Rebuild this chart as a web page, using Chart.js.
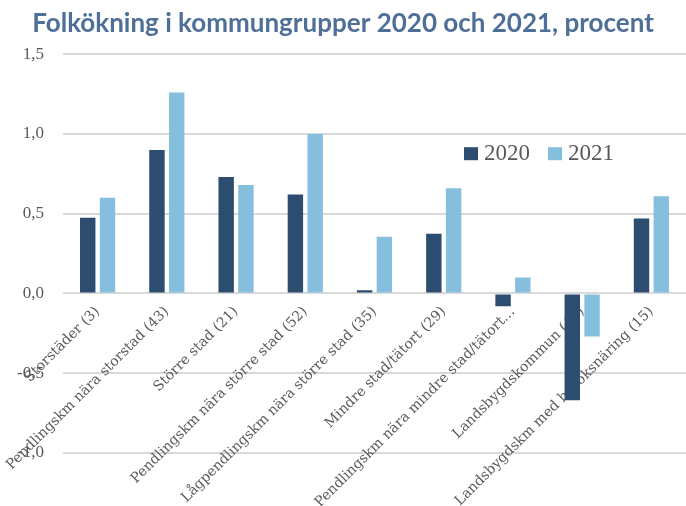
<!DOCTYPE html>
<html>
<head>
<meta charset="utf-8">
<script src="https://cdn.jsdelivr.net/npm/chart.js@4.4.0/dist/chart.umd.min.js"></script>
<style>
  html, body { margin: 0; padding: 0; background: #fff; }
  #wrap { width: 686px; height: 506px; }
</style>
</head>
<body>
<div id="wrap"><canvas id="folkChart" width="686" height="506"></canvas></div>
<script>
// Kommungrupper (etiketter på x-axeln)
const categories = [
    'Storstäder (3)',
    'Pendlingskm nära storstad (43)',
    'Större stad (21)',
    'Pendlingskm nära större stad (52)',
    'Lågpendlingskm nära större stad (35)',
    'Mindre stad/tätort (29)',
    'Pendlingskm nära mindre stad/tätort…',
    'Landsbygdskommun (40)',
    'Landsbygdskm med besöksnäring (15)'
];

// Folkökning i procent
const values2020 = [0.475, 0.90, 0.73, 0.62, 0.02, 0.375, -0.08, -0.67, 0.47];
const values2021 = [0.60, 1.26, 0.68, 1.00, 0.355, 0.66, 0.10, -0.27, 0.61];

const seriesLabels = ['2020', '2021'];
const seriesColors = ['#2c4d70', '#86bfdd'];

const yTicks = [-1.0, -0.5, 0.0, 0.5, 1.0, 1.5];

const serif = "'Liberation Serif', 'DejaVu Serif', serif";

// Legend ritas inne i diagramytan
const insideLegend = {
    id: 'insideLegend',
    afterDraw(chart) {
        const ctx = chart.ctx;
        const area = chart.chartArea;
        let x = area.left + 401;
        const y = area.top + 99;
        ctx.save();
        ctx.font = '23px ' + serif;
        ctx.textBaseline = 'middle';
        ctx.textAlign = 'left';
        chart.data.datasets.forEach(ds => {
            ctx.fillStyle = ds.backgroundColor;
            ctx.fillRect(x, y - 6, 14, 13);
            ctx.fillStyle = '#595959';
            ctx.fillText(ds.label, x + 20, y + 1);
            x += 20 + ctx.measureText(ds.label).width + 18;
        });
        ctx.restore();
    }
};

const ctx = document.getElementById('folkChart').getContext('2d');

new Chart(ctx, {
    type: 'bar',
    data: {
        labels: categories,
        datasets: seriesLabels.map((label, i) => ({
            label: label,
            data: i === 0 ? values2020 : values2021,
            backgroundColor: seriesColors[i],
            borderWidth: 0,
            categoryPercentage: 0.571,
            barPercentage: 0.78
        }))
    },
    options: {
        responsive: false,
        animation: false,
        layout: {
            padding: { top: 0, right: 0, bottom: 53, left: 0 }
        },
        plugins: {
            legend: { display: false },
            tooltip: { enabled: false },
            title: {
                display: true,
                text: 'Folkökning i kommungrupper 2020 och 2021, procent',
                color: '#4e6f98',
                font: { family: 'Lato', size: 26, weight: 'bold' },
                padding: { top: 8, bottom: 15 },
                lineHeight: 1.2
            }
        },
        scales: {
            x: {
                position: { y: 0 },
                grid: { display: false },
                border: { display: false },
                ticks: {
                    maxRotation: 45,
                    minRotation: 45,
                    autoSkip: false,
                    padding: 2,
                    color: '#595959',
                    font: { family: "'DejaVu Serif', serif", size: 14 }
                }
            },
            y: {
                min: -1.0,
                max: 1.5,
                afterFit(scale) { scale.width = 63; },
                afterBuildTicks(scale) {
                    scale.ticks = yTicks.map(v => ({ value: v }));
                },
                grid: {
                    color: '#d9d9d9',
                    lineWidth: 2,
                    drawTicks: false
                },
                border: { display: false },
                ticks: {
                    padding: 19,
                    color: '#595959',
                    font: { family: serif, size: 17 },
                    callback: v => v.toFixed(1).replace('.', ',')
                }
            }
        }
    },
    plugins: [insideLegend]
});
</script>
</body>
</html>
